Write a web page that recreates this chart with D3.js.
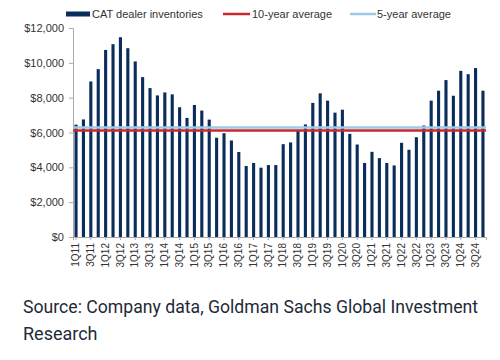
<!DOCTYPE html>
<html><head><meta charset="utf-8">
<script src="https://cdn.jsdelivr.net/npm/d3@7"></script>
<style>body{margin:0;background:#fff}svg{display:block}</style>
</head><body>
<svg id="c" width="500" height="360"></svg>
<script>
const quarters = [];
for (let y = 11; y <= 24; y++) for (let q = 1; q <= 4; q++) quarters.push(q + "Q" + y);
const inventories = [6450,6750,8930,9640,10740,11070,11470,10840,10080,9180,8550,8130,8300,8190,7450,6840,7580,7260,6740,5700,5960,5540,4880,4080,4250,3980,4130,4130,5330,5430,6110,6460,7700,8250,7830,7140,7310,5920,5310,4250,4890,4530,4250,4110,5410,5010,5730,6400,7830,8400,9010,8110,9540,9350,9700,8400];
const tenYearAvg = 6120;
const fiveYearAvg = 6290;
const yTicks = [0,2000,4000,6000,8000,10000,12000];
const legendLabels = ["CAT dealer inventories","10-year average","5-year average"];

const svg = d3.select("#c");
const m = {l:73, r:486, t:28, b:237};
const x = d3.scaleBand().domain(quarters).range([m.l, m.r]).paddingInner(0.58).paddingOuter(0.2);
const y = d3.scaleLinear().domain([0,12000]).range([m.b, m.t]);
const font = "Liberation Sans, Arial, sans-serif";
const textCol = "#333";

// y axis
const ya = svg.append("g").attr("transform",`translate(${m.l},0)`)
  .call(d3.axisLeft(y).tickValues(yTicks).tickSize(4).tickPadding(5).tickFormat(d => "$" + d3.format(",")(d)));
ya.selectAll("text").attr("font-family",font).attr("font-size",11).attr("fill",textCol);
ya.selectAll("line,path").attr("stroke","#aaa");

// bars
svg.append("g").selectAll("rect").data(inventories).join("rect")
  .attr("x",(d,i)=>x(quarters[i])).attr("width",x.bandwidth())
  .attr("y",d=>y(d)).attr("height",d=>y(0)-y(d)).attr("fill","#0b2d5c");

// average lines
svg.append("line").attr("x1",m.l).attr("x2",m.r).attr("y1",y(fiveYearAvg)).attr("y2",y(fiveYearAvg))
  .attr("stroke","#9ccbea").attr("stroke-width",2.5);
svg.append("line").attr("x1",m.l).attr("x2",m.r).attr("y1",y(tenYearAvg)).attr("y2",y(tenYearAvg))
  .attr("stroke","#c8282d").attr("stroke-width",2.5);

// x axis
const xa = svg.append("g").attr("transform",`translate(0,${m.b})`)
  .call(d3.axisBottom(x).tickValues(quarters.filter((d,i)=>i%2===0)).tickSize(3).tickPadding(4));
xa.selectAll("path,line").attr("stroke","#aaa");
xa.selectAll(".tick text").attr("font-family",font).attr("font-size",10).attr("fill",textCol)
  .attr("transform","rotate(-90)").attr("text-anchor","end")
  .attr("x",-6).attr("y",0).attr("dy","0.32em");

// legend
const lg = svg.append("g").attr("font-family",font).attr("font-size",11).attr("fill",textCol);
lg.append("rect").attr("x",66).attr("y",11.5).attr("width",24).attr("height",5).attr("fill","#0b2d5c");
lg.append("text").attr("x",92).attr("y",18).text(legendLabels[0]);
lg.append("line").attr("x1",223).attr("x2",250).attr("y1",14).attr("y2",14).attr("stroke","#c8282d").attr("stroke-width",2.5);
lg.append("text").attr("x",252).attr("y",18).text(legendLabels[1]);
lg.append("line").attr("x1",350).attr("x2",376).attr("y1",14).attr("y2",14).attr("stroke","#9ccbea").attr("stroke-width",2.5);
lg.append("text").attr("x",377).attr("y",18).text(legendLabels[2]);

// source
const src = svg.append("text").attr("font-family","Roboto, sans-serif").attr("font-size",18).attr("fill","#1e2a38");
src.append("tspan").attr("x",23).attr("y",313).attr("textLength",455).attr("lengthAdjust","spacingAndGlyphs").text("Source: Company data, Goldman Sachs Global Investment");
src.append("tspan").attr("x",23).attr("y",340).text("Research");
</script>
</body></html>
